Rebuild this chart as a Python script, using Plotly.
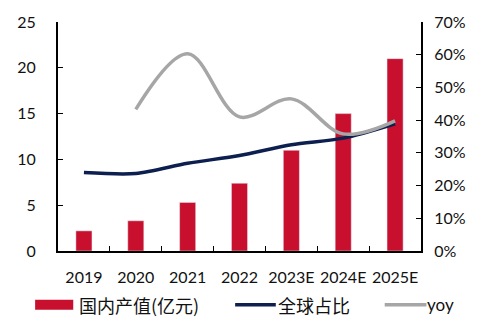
import plotly.graph_objects as go

categories = ["2019", "2020", "2021", "2022", "2023E", "2024E", "2025E"]
output_value = [2.2, 3.3, 5.3, 7.4, 11.0, 15.0, 21.0]          # 国内产值(亿元)
global_share = [0.240, 0.237, 0.268, 0.292, 0.325, 0.345, 0.389]  # 全球占比
yoy = [None, 0.433, 0.603, 0.410, 0.465, 0.358, 0.398]          # yoy

RED = "#C8102E"
NAVY = "#0C1F4E"
GRAY = "#A6A6A6"
FONT = "Lato, 'Noto Sans CJK SC', sans-serif"
CJK = "'Noto Sans CJK SC', sans-serif"

fig = go.Figure()
fig.add_trace(go.Bar(x=categories, y=output_value, name="国内产值(亿元)",
                     marker_color=RED, width=0.31, yaxis="y"))
fig.add_trace(go.Scatter(x=categories, y=global_share, name="全球占比", mode="lines",
                         line=dict(color=NAVY, width=3.5, shape="spline", smoothing=0.8),
                         yaxis="y2"))
fig.add_trace(go.Scatter(x=categories, y=yoy, name="yoy", mode="lines",
                         line=dict(color=GRAY, width=3.5, shape="spline", smoothing=1.0),
                         yaxis="y2"))

fig.update_layout(
    width=484, height=323,
    margin=dict(l=58, r=63, t=20, b=72),
    paper_bgcolor="white", plot_bgcolor="white",
    showlegend=False,
    font=dict(family=FONT, size=16, color="#111"),
    xaxis=dict(showline=True, linecolor="black", linewidth=2, ticks="inside",
               tickson="boundaries", ticklen=5, tickcolor="black", tickangle=0,
               showgrid=False, tickfont=dict(size=16), ticklabelstandoff=11),
    yaxis=dict(range=[0, 25], dtick=5, showline=True, linecolor="black", linewidth=2,
               ticks="inside", ticklen=5, tickcolor="black", showgrid=False,
               zeroline=False, ticklabelstandoff=17),
    yaxis2=dict(range=[0, 0.7], dtick=0.1, tickformat=".0%", overlaying="y", side="right",
                showline=True, linecolor="black", linewidth=2, ticks="inside", ticklen=5,
                tickcolor="black", showgrid=False, zeroline=False, ticklabelstandoff=8),
)

# Manual legend (wide symbols as in the reference)
ly = -0.235
fig.add_shape(type="rect", xref="paper", yref="paper", x0=-0.063, x1=0.042,
              y0=ly - 0.022, y1=ly + 0.022, fillcolor=RED, line_width=0)
fig.add_annotation(xref="paper", yref="paper", x=0.052, y=ly, text="国内产值(亿元)",
                   showarrow=False, xanchor="left", yanchor="middle",
                   font=dict(size=18, family=CJK))
fig.add_shape(type="line", xref="paper", yref="paper", x0=0.488, x1=0.6,
              y0=ly, y1=ly, line=dict(color=NAVY, width=3.5))
fig.add_annotation(xref="paper", yref="paper", x=0.6, y=ly, text="全球占比",
                   showarrow=False, xanchor="left", yanchor="middle",
                   font=dict(size=18, family=CJK))
fig.add_shape(type="line", xref="paper", yref="paper", x0=0.9, x1=1.015,
              y0=ly, y1=ly, line=dict(color=GRAY, width=3.5))
fig.add_annotation(xref="paper", yref="paper", x=1.01, y=ly, text="yoy",
                   showarrow=False, xanchor="left", yanchor="middle",
                   font=dict(size=17))

fig.write_html("out.html")
